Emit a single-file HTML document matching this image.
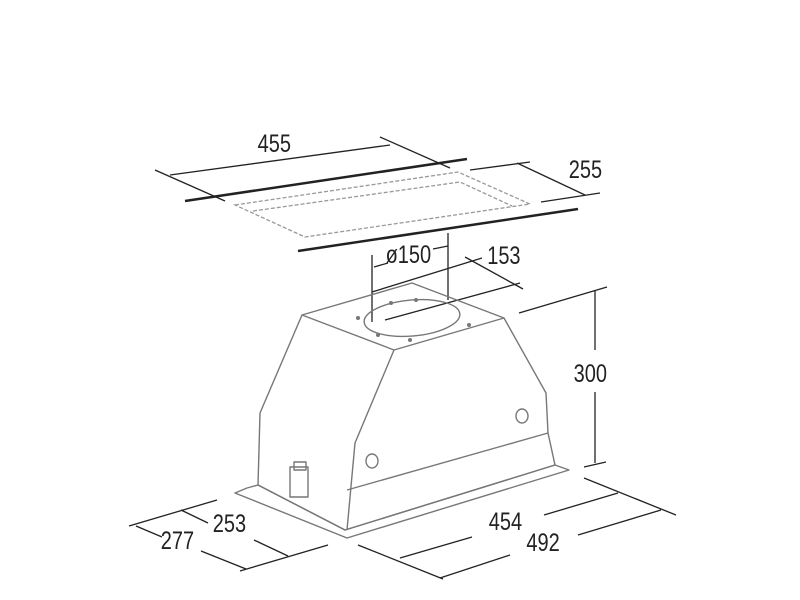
<!DOCTYPE html>
<html><head><meta charset="utf-8"><style>html,body{margin:0;background:#fff}svg{display:block}text{font-family:"Liberation Sans",sans-serif;font-size:25px;fill:#222}</style></head><body>
<svg width="800" height="600" viewBox="0 0 800 600">
<g stroke="#222" stroke-width="1.3" fill="none">
<line x1="170" y1="175" x2="390" y2="145"/>
<line x1="155" y1="170" x2="225" y2="201"/>
<line x1="380" y1="137" x2="450" y2="168"/>
<line x1="185" y1="201" x2="467" y2="159" stroke-width="2.5"/>
<line x1="298" y1="251" x2="578" y2="209" stroke-width="2.5"/>
<line x1="517" y1="163" x2="585" y2="195"/>
<line x1="470" y1="170" x2="530" y2="162"/>
<line x1="541" y1="202" x2="600" y2="193"/>
<line x1="372" y1="255" x2="372" y2="322"/>
<line x1="448" y1="233" x2="448" y2="300"/>
<line x1="374" y1="267" x2="388" y2="263"/>
<line x1="433" y1="249" x2="448" y2="246"/>
<line x1="465" y1="257" x2="523" y2="289"/>
<line x1="372" y1="292" x2="482" y2="258"/>
<line x1="385" y1="320" x2="520" y2="283"/>
<line x1="519" y1="313" x2="607" y2="287"/>
<line x1="595" y1="290" x2="595" y2="350"/>
<line x1="595" y1="392" x2="595" y2="463"/>
<line x1="584" y1="467" x2="606" y2="462"/>
<line x1="129" y1="526" x2="217" y2="500"/>
<line x1="181" y1="510" x2="208" y2="523"/>
<line x1="254" y1="540" x2="288" y2="556"/>
<line x1="136" y1="526" x2="162" y2="537"/>
<line x1="201" y1="551" x2="246" y2="569"/>
<line x1="240" y1="571" x2="328" y2="545"/>
<line x1="358" y1="545" x2="443" y2="579"/>
<line x1="400" y1="558" x2="472" y2="537"/>
<line x1="544" y1="515" x2="618" y2="493"/>
<line x1="440" y1="578" x2="510" y2="555"/>
<line x1="578" y1="535" x2="661" y2="510"/>
<line x1="584" y1="478" x2="676" y2="515"/>
</g>
<g stroke="#999" stroke-width="1.3" fill="none" stroke-dasharray="4,2">
<polygon points="235,205 458,172 530,204 305,237"/>
<polyline points="253,211 460,182 512,206"/>
</g>
<g stroke="#777" stroke-width="1.4" fill="none" stroke-linejoin="round">
<polygon points="302,315 412,283 504,318 394,350"/>
<polyline points="302,315 260,413 258,485 345,530 555,465 548,433 546,393 504,318"/>
<polyline points="394,350 355,443 347,530"/>
<line x1="347" y1="490" x2="548" y2="433"/>
<polygon points="235,493 247,488 258,485 345,530 555,465 569,470 347,538"/>
<ellipse cx="412" cy="318" rx="48" ry="18" transform="rotate(-5 412 318)"/>
<rect x="290" y="467" width="18" height="30"/>
<rect x="294" y="462" width="12" height="8"/>
<ellipse cx="372" cy="461" rx="6" ry="7"/>
<ellipse cx="522" cy="416" rx="6" ry="7"/>
</g>
<g fill="#777"><circle cx="358" cy="318" r="2"/><circle cx="391" cy="303" r="2"/><circle cx="416" cy="300" r="2"/><circle cx="469" cy="325" r="2"/><circle cx="378" cy="335" r="2"/><circle cx="410" cy="340" r="2"/></g>
<g transform="scale(0.8,1)">
<text x="322" y="152">455</text>
<text x="711" y="178">255</text>
<text x="482" y="263">ø150</text>
<text x="609" y="264">153</text>
<text x="717" y="382">300</text>
<text x="266" y="532">253</text>
<text x="201" y="549">277</text>
<text x="611" y="530">454</text>
<text x="658" y="551">492</text>
</g>
</svg>
</body></html>
